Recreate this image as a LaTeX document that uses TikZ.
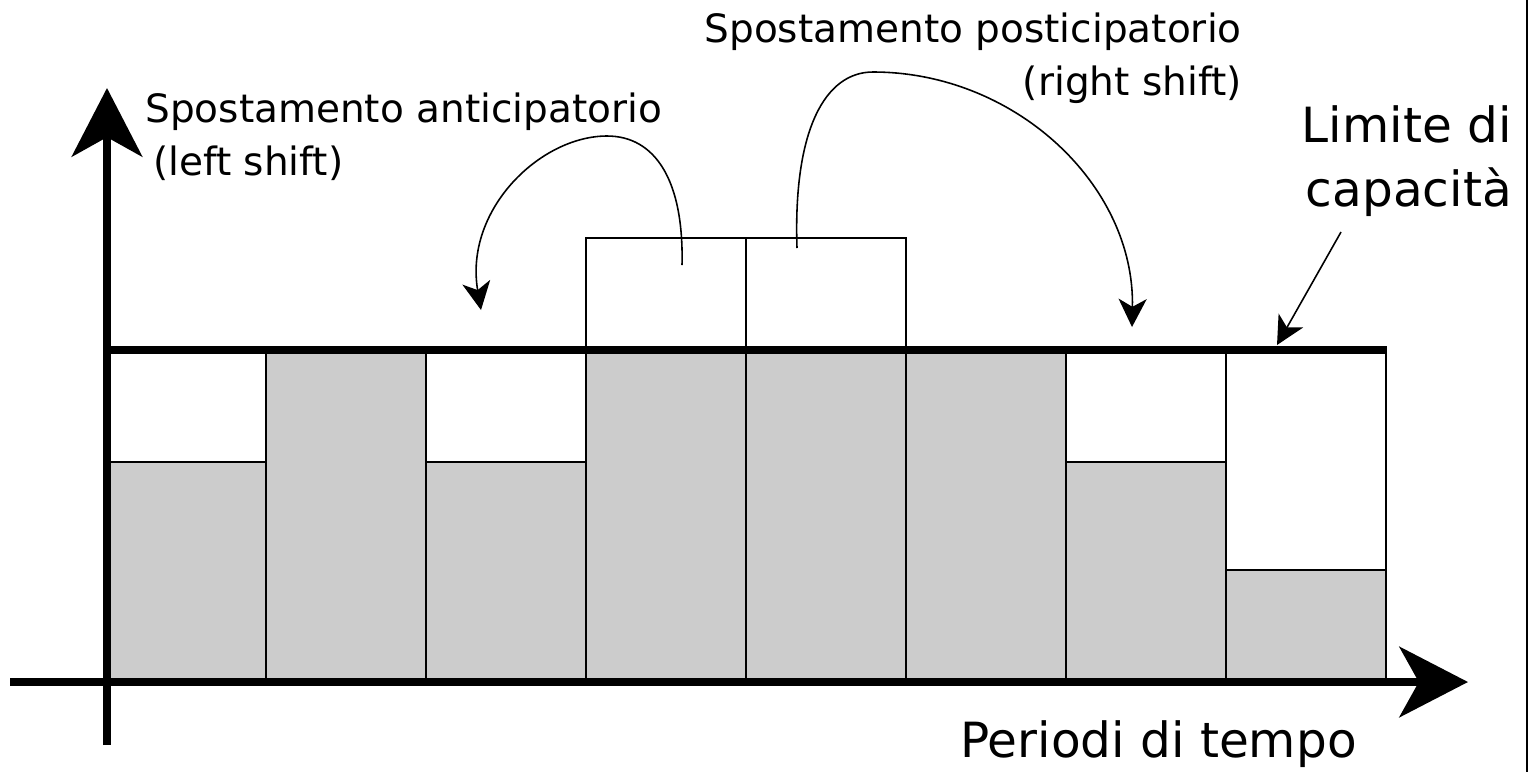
\documentclass[tikz,border=0pt]{standalone}
\usepackage{fontspec}
\setmainfont{DejaVu Sans}
\usetikzlibrary{arrows.meta}
\tikzset{
axis/.style={line width=5pt, -{Stealth[length=39pt, width=40pt, inset=11pt]}}, % the two thick axes
limit/.style={line width=4.6pt}, % the capacity line
cell/.style={draw, line width=1.1pt}, % free part of a period
bar/.style={draw, fill=gray!40, line width=1.1pt}, % load of a period
move/.style={line width=0.9pt, -{Stealth[length=16pt, width=16pt, inset=4.5pt]}}, % thin arrows
small/.style={font=\fontsize{22.2}{29.6}\selectfont, inner sep=0pt},
big/.style={font=\fontsize{27.6}{36.4}\selectfont, inner sep=0pt},
}

\begin{document}
\begin{tikzpicture}[x=0.02cm, y=-0.02cm]
      \useasboundingbox (0,0) rectangle (1530,772);
      % periods
      \draw[cell] (106,350) rectangle (266,682);
      \draw[cell] (426,350) rectangle (586,682);
      \draw[cell] (1066,350) rectangle (1226,682);
      \draw[cell] (1226,350) rectangle (1386,682);
      \draw[cell] (586,238) rectangle (746,350);
      \draw[cell] (746,238) rectangle (906,350);
      \draw[bar] (106,462) rectangle (266,682);
      \draw[bar] (266,350) rectangle (426,682);
      \draw[bar] (426,462) rectangle (586,682);
      \draw[bar] (586,350) rectangle (746,682);
      \draw[bar] (746,350) rectangle (906,682);
      \draw[bar] (906,350) rectangle (1066,682);
      \draw[bar] (1066,462) rectangle (1226,682);
      \draw[bar] (1226,570) rectangle (1386,682);
      % axes and capacity
      \coordinate (o) at (107,682);
      \coordinate (xfrom) at (10,682);
      \coordinate (xto) at (1468,682);
      \coordinate (yfrom) at (107,745);
      \coordinate (yto) at (107,88);
      \coordinate (cap) at (1387,350);
      \draw[limit] (o |- cap) -- (cap);
      \draw[axis] (xfrom) -- (xto);
      \draw[axis] (yfrom) -- (yto);
      \draw[line width=1.2pt] (1527,0) -- (1527,772);
      % labels
      \node[small, anchor=north west, align=left] (antic) at (145,93) {Spostamento anticipatorio\\\hspace*{0.2em}(left shift)};
      \node[small, anchor=north east, align=right] (postic) at (1242,13) {Spostamento posticipatorio\\(right shift)};
      \node[big, anchor=north east, align=right] (limtxt) at (1512,105) {Limite di\\capacità};
      \node[big, anchor=base west] (time) at (960,757) {Periodi di tempo};
      % shifts
      \coordinate (l0) at (682,265);
      \coordinate (l1) at (481,310);
      \coordinate (r0) at (797,248);
      \coordinate (r1) at (1132,327);
      \coordinate (k0) at (1341,232);
      \coordinate (k1) at (1277,345);
      \draw[move] (l0) .. controls (684,180) and (655,136) .. (607,136) .. controls (540,136) and (464,210) .. (l1);
      \draw[move] (r0) .. controls (793,130) and (825,72) .. (873,72) .. controls (1015,72) and (1135,185) .. (r1);
      \draw[move] (k0) -- (k1);
\end{tikzpicture}
\end{document}
